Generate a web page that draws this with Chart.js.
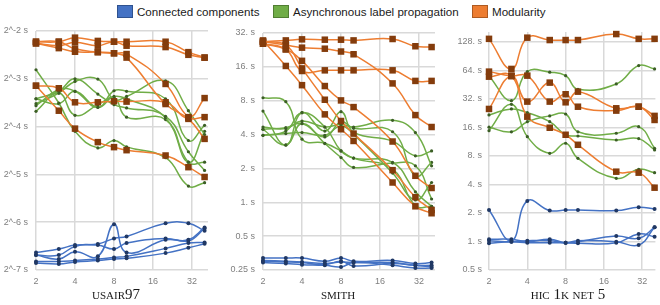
<!DOCTYPE html>
<html>
<head>
<meta charset="utf-8">
<script src="https://cdn.jsdelivr.net/npm/chart.js@4.4.0/dist/chart.umd.min.js"></script>
<style>
  body { margin: 0; background: #fff; }
  #wrap { position: relative; width: 660px; height: 305px; overflow: hidden; font-family: "Liberation Sans", Arial, sans-serif; }
  canvas { position: absolute; top: 0; }
  .leg { position: absolute; top: 5px; height: 13px; line-height: 13px; font-size: 11.6px; color: #1a1a1a; white-space: nowrap; }
  .leg i { display: inline-block; width: 14px; height: 11px; border: 1px solid; vertical-align: top; margin-right: 4px; }
  .cap { position: absolute; top: 286px; width: 160px; margin-left: -80px; text-align: center; line-height: 16px;
         font-family: "Liberation Serif", serif; font-size: 15px; font-variant: small-caps; text-transform: lowercase; color: #1a1a1a; }
</style>
</head>
<body>
<div id="wrap">
  <div class="leg" style="left:117px"><i style="background:#4472C4;border-color:#2F528F"></i>Connected components</div>
  <div class="leg" style="left:273px"><i style="background:#70AD47;border-color:#507E32"></i>Asynchronous label propagation</div>
  <div class="leg" style="left:472px"><i style="background:#ED7D31;border-color:#AE5A21"></i>Modularity</div>

  <canvas id="usair" width="214" height="290" style="left:0px"></canvas>
  <canvas id="smith" width="226" height="290" style="left:215px"></canvas>
  <canvas id="hic" width="223" height="290" style="left:437px"></canvas>

  <div class="cap" style="left:116px">USAIR97</div>
  <div class="cap" style="left:338px">SMITH</div>
  <div class="cap" style="left:568px">HIC 1K NET 5</div>
</div>

<script>
// thread counts on the x axis
const threads = [2, 3, 4, 6, 8, 10, 20, 30, 40];
const xTicks = [2, 4, 8, 16, 32];

// USAIR97 (seconds)
const usairCC = [
  [0.01008, 0.01059, 0.01121, 0.01139, 0.01235, 0.01271, 0.01540, 0.01540, 0.01378],
  [0.00970, 0.00970, 0.01100, 0.01121, 0.01059, 0.01154, 0.01235, 0.01193, 0.01427],
  [0.00970, 0.00916, 0.01017, 0.00952, 0.01518, 0.01008, 0.01210, 0.01210, 0.01448],
  [0.00884, 0.00884, 0.00896, 0.00916, 0.00938, 0.00952, 0.01069, 0.01154, 0.01165],
  [0.00865, 0.00852, 0.00877, 0.00896, 0.00916, 0.00925, 0.00998, 0.01078, 0.01142]
];
const usairALP = [
  [0.1425, 0.0880, 0.0584, 0.0459, 0.0511, 0.0466, 0.0398, 0.0264, 0.0277],
  [0.0936, 0.1043, 0.1250, 0.1002, 0.0859, 0.0819, 0.0725, 0.0434, 0.0331],
  [0.0871, 0.1017, 0.1203, 0.1245, 0.0923, 0.0968, 0.1214, 0.0787, 0.0557],
  [0.0846, 0.1066, 0.1043, 0.0826, 0.1051, 0.1043, 0.0936, 0.0511, 0.0637],
  [0.0780, 0.1017, 0.0736, 0.0859, 0.0968, 0.0936, 0.0711, 0.0373, 0.0584],
  [0.0936, 0.0871, 0.1043, 0.0826, 0.0954, 0.0717, 0.0692, 0.0373, 0.0373]
];
const usairMod = [
  [0.214, 0.214, 0.227, 0.2165, 0.214, 0.214, 0.214, 0.184, 0.170],
  [0.209, 0.202, 0.212, 0.202, 0.214, 0.202, 0.198, 0.177, 0.170],
  [0.214, 0.214, 0.193, 0.184, 0.181, 0.179, 0.116, 0.0717, 0.0717],
  [0.209, 0.195, 0.185, 0.184, 0.181, 0.170, 0.0867, 0.0699, 0.0523],
  [0.113, 0.109, 0.0889, 0.0889, 0.0902, 0.0898, 0.0889, 0.0711, 0.0945],
  [0.113, 0.0787, 0.0607, 0.0499, 0.0464, 0.0444, 0.0411, 0.0347, 0.0301]
];
const usairYTicks = [0.0078125, 0.015625, 0.03125, 0.0625, 0.125, 0.25];
const usairYLabels = ["2^-7 s", "2^-6 s", "2^-5 s", "2^-4 s", "2^-3 s", "2^-2 s"];

// SMITH (seconds)
const smithCC = [
  [0.319, 0.319, 0.319, 0.299, 0.319, 0.299, 0.304, 0.285, 0.291],
  [0.304, 0.299, 0.295, 0.285, 0.295, 0.291, 0.291, 0.275, 0.275],
  [0.291, 0.285, 0.279, 0.275, 0.266, 0.291, 0.275, 0.260, 0.260],
  [0.299, 0.295, 0.291, 0.279, 0.299, 0.272, 0.285, 0.275, 0.266]
];
const smithALP = [
  [8.50, 7.84, 3.64, 3.35, 2.86, 2.47, 2.26, 1.24, 0.921],
  [6.47, 3.22, 6.26, 4.30, 6.39, 4.20, 3.49, 2.59, 2.86],
  [4.67, 4.52, 5.28, 4.67, 4.94, 4.67, 5.36, 4.17, 2.11],
  [4.46, 4.61, 5.01, 3.81, 5.21, 4.55, 4.24, 1.72, 2.26],
  [3.94, 4.08, 4.17, 3.94, 4.77, 4.02, 1.82, 1.05, 1.50],
  [4.46, 3.24, 5.01, 3.33, 2.50, 2.04, 2.23, 2.11, 1.07],
  [3.94, 4.30, 6.26, 4.67, 2.86, 2.47, 1.97, 0.933, 0.921]
];
const smithMod = [
  [26.8, 27.5, 28.1, 27.9, 27.9, 27.5, 28.3, 24.4, 24.0],
  [26.8, 25.0, 23.7, 23.2, 21.9, 20.7, 11.4, 5.96, 4.67],
  [25.7, 22.9, 14.7, 14.9, 14.9, 14.9, 14.9, 12.0, 12.0],
  [25.7, 22.9, 18.1, 10.8, 8.05, 7.02, 3.47, 1.72, 1.34],
  [27.5, 16.3, 11.0, 6.05, 4.46, 3.51, 1.50, 0.921, 0.799],
  [26.8, 25.0, 15.5, 8.16, 5.28, 4.08, 1.93, 1.11, 0.855]
];
const smithYTicks = [0.25, 0.5, 1, 2, 4, 8, 16, 32];
const smithYLabels = ["0.25 s", "0.5 s", "1. s", "2. s", "4. s", "8. s", "16. s", "32. s"];

// HIC 1K NET 5 (seconds)
const hicCC = [
  [2.15, 1.02, 2.68, 2.12, 2.15, 2.15, 2.12, 2.30, 2.20],
  [1.055, 1.055, 0.995, 1.055, 0.971, 0.995, 1.14, 1.08, 1.41],
  [1.02, 0.995, 1.02, 1.02, 0.971, 1.02, 0.995, 0.918, 1.41],
  [0.957, 0.995, 0.971, 0.971, 0.971, 0.957, 0.971, 1.20, 1.12]
];
const hicALP = [
  [56.0, 30.7, 62.2, 61.3, 56.4, 40.5, 46.1, 72.1, 66.4],
  [16.1, 14.4, 18.4, 21.2, 22.2, 14.4, 13.9, 16.3, 9.65],
  [21.7, 25.1, 22.9, 18.4, 13.4, 13.0, 11.8, 12.2, 9.26],
  [14.8, 28.1, 12.8, 8.54, 10.9, 7.56, 4.65, 5.79, 5.33]
];
const hicMod = [
  [138, 66.4, 142, 134, 134, 134, 155, 138, 138],
  [62.2, 56.0, 56.4, 30.0, 35.9, 26.5, 24.1, 26.5, 19.2],
  [25.1, 56.0, 30.0, 47.6, 29.5, 38.2, 25.5, 26.5, 21.2],
  [55.0, 56.0, 20.8, 15.9, 13.4, 10.5, 5.46, 5.33, 3.70]
];
const hicYTicks = [0.5, 1, 2, 4, 8, 16, 32, 64, 128];
const hicYLabels = ["0.5 s", "1. s", "2. s", "4. s", "8. s", "16. s", "32. s", "64. s", "128. s"];

// per-series look: connected components, label propagation, modularity
const lineColors = ["#4472C4", "#70AD47", "#ED7D31"];
const markColors = ["#203864", "#3B5E25", "#843C0C"];
const markStyles = ["circle", "circle", "rect"];
const markSizes = [2, 1.6, 4.6];
const drawOrder = [2, 1, 0];

const gridColor = "#d9d9d9";
const tickColor = "#7f7f7f";
const tickFont = { family: "Liberation Sans", size: 9 };

function buildDatasets(groups) {
  const sets = [];
  groups.forEach((lines, g) => {
    lines.forEach(vals => {
      sets.push({
        data: vals.map((v, i) => ({ x: threads[i], y: v })),
        borderColor: lineColors[g],
        borderWidth: 1.5,
        backgroundColor: markColors[g],
        pointBackgroundColor: markColors[g],
        pointBorderColor: markColors[g],
        pointBorderWidth: 0,
        pointStyle: markStyles[g],
        pointRadius: markSizes[g],
        tension: 0.45,
        clip: false,
        order: drawOrder[g]
      });
    });
  });
  return sets;
}

function makeChart(id, groups, yTicks, yLabels, yMin, yMax, xMax, axisW, padTop, padRight, labelPad) {
  const ctx = document.getElementById(id).getContext("2d");
  return new Chart(ctx, {
    type: "line",
    data: { datasets: buildDatasets(groups) },
    options: {
      responsive: false,
      animation: false,
      devicePixelRatio: 1,
      layout: { padding: { top: padTop, right: padRight, left: 0, bottom: 0 } },
      plugins: { legend: { display: false }, tooltip: { enabled: false } },
      scales: {
        x: {
          type: "logarithmic",
          min: 2,
          max: xMax,
          afterBuildTicks: s => { s.ticks = xTicks.map(v => ({ value: v })); },
          afterFit: s => { s.height = 20; },
          ticks: { color: tickColor, font: tickFont, padding: 6, maxRotation: 0, autoSkip: false, callback: v => String(v) },
          grid: { color: gridColor, lineWidth: 1.5, drawTicks: false },
          border: { display: false }
        },
        y: {
          type: "logarithmic",
          min: yMin,
          max: yMax,
          afterBuildTicks: s => { s.ticks = yTicks.map(v => ({ value: v })); },
          afterFit: s => { s.width = axisW; },
          ticks: {
            color: tickColor, font: tickFont, padding: labelPad, autoSkip: false,
            callback: v => yLabels[yTicks.indexOf(v)]
          },
          grid: { color: gridColor, lineWidth: 1.5, drawTicks: false },
          border: { display: false }
        }
      }
    }
  });
}

makeChart("usair", [usairCC, usairALP, usairMod], usairYTicks, usairYLabels, 0.0078125, 0.25, 42.5, 36, 31, 6, 8);
makeChart("smith", [smithCC, smithALP, smithMod], smithYTicks, smithYLabels, 0.25, 32, 42.5, 48, 33, 6, 8);
makeChart("hic", [hicCC, hicALP, hicMod], hicYTicks, hicYLabels, 0.5, 163, 40.6, 52, 32, 1, 7);
</script>
</body>
</html>
